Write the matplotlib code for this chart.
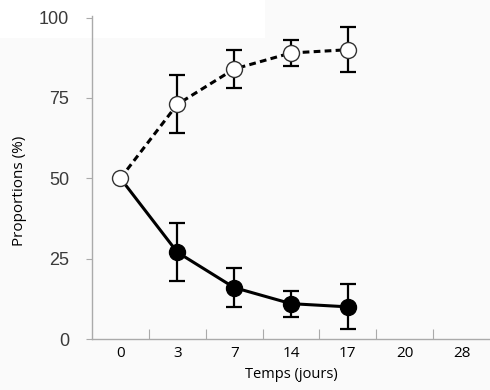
import numpy as np
import matplotlib
matplotlib.use("Agg")
from matplotlib import pyplot as plt
from matplotlib.patches import Rectangle

# data
days = ["0", "3", "7", "14", "17", "20", "28"]
yticks = [0, 25, 50, 75, 100]
open_vals = [50, 73, 84, 89, 90]
open_err = [0, 9, 6, 4, 7]
filled_vals = [50, 27, 16, 11, 10]
filled_err = [0, 9, 6, 4, 7]

fig = plt.figure(figsize=(4.9, 3.9), dpi=100, facecolor="#fafafa")
fig.patches.append(Rectangle((0, 1 - 38/390), 265/490, 38/390, transform=fig.transFigure,
                             facecolor="white", edgecolor="none", zorder=-10))
ax = fig.add_axes([92/490, 51/390, 1 - 92/490, 323/390])
ax.set_facecolor("none")

x = np.arange(len(open_vals))

# filled series (solid line)
ax.errorbar(x[1:], filled_vals[1:], yerr=filled_err[1:], fmt="none", ecolor="black",
            elinewidth=1.6, capsize=6, capthick=1.6, zorder=2)
ax.plot(x, filled_vals, "-", color="black", lw=2.2, zorder=3)
ax.plot(x[1:], filled_vals[1:], "o", color="black", ms=11.5, zorder=4)

# open series (dashed line)
ax.errorbar(x[1:], open_vals[1:], yerr=open_err[1:], fmt="none", ecolor="black",
            elinewidth=1.6, capsize=6, capthick=1.6, zorder=2)
ax.plot(x, open_vals, color="black", lw=2.2, linestyle=(0, (2.2, 1.4)), zorder=3)
ax.plot(x, open_vals, "o", mfc="white", mec="#333333", mew=1.0, ms=11.5, zorder=5)

ax.set_xlim(-0.5, len(days) - 0.5)
ax.set_ylim(0, 100.5)

# ticks sit between the days, labels centred on them
ax.set_xticks(np.arange(len(days) - 1) + 0.5)
ax.set_xticklabels([])
ax.set_xticks(np.arange(len(days)), minor=True)
ax.set_xticklabels(days, minor=True, fontsize=11, family="Open Sans", color="black")
ax.tick_params(axis="x", which="major", direction="in", length=7, color="#aaaaaa")
ax.tick_params(axis="x", which="minor", length=0, pad=5)

ax.set_yticks(yticks)
ax.set_yticklabels([str(v) for v in yticks], fontsize=13, family="Liberation Sans", color="#3a3a3a")
ax.tick_params(axis="y", direction="out", length=4.5, color="#aaaaaa", pad=12)

for s in ["top", "right"]:
    ax.spines[s].set_visible(False)
for s in ["left", "bottom"]:
    ax.spines[s].set_color("#aaaaaa")
    ax.spines[s].set_linewidth(1.0)

ax.set_xlabel("Temps (jours)", fontsize=10.5, family="Open Sans", labelpad=4)
ax.set_ylabel("Proportions (%)", fontsize=11, family="Open Sans")
ax.yaxis.set_label_coords(-0.163, 0.46)

fig.savefig("out.png", dpi=100, facecolor=fig.get_facecolor())
